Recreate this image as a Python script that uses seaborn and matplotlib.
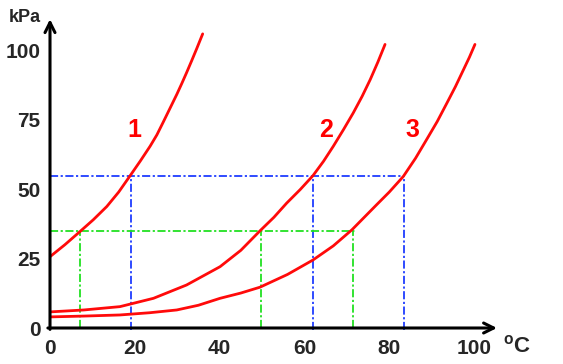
import matplotlib
matplotlib.use("Agg")
import matplotlib.pyplot as plt
import seaborn as sns
import pandas as pd

# vapour pressure curves (deg C, kPa)
c1_t = [0, 3.5, 7.1, 10.2, 13.4, 16.2, 18.9, 21.3, 23.6, 25.2, 26.7, 28.3, 29.9, 31.1, 32.2, 33.4, 34.6, 36.0]
c1_p = [25.7, 30.0, 34.8, 39.0, 43.8, 49.0, 54.9, 60.2, 65.5, 69.6, 74.2, 79.2, 84.2, 88.2, 92.0, 96.3, 100.7, 106.0]
c2_t = [0, 8.0, 16.5, 24.4, 32.2, 40.1, 45.0, 49.5, 52.8, 55.8, 59.0, 62.0, 64.5, 66.8, 69.2, 71.5, 73.6, 75.5, 77.3, 79.0]
c2_p = [5.8, 6.5, 7.7, 10.7, 15.5, 22.1, 28.0, 35.0, 39.9, 45.0, 49.9, 54.9, 60.1, 65.5, 71.5, 77.5, 83.5, 89.5, 95.8, 102.2]
c3_t = [0, 8.0, 16.5, 23.5, 29.9, 35.0, 40.1, 45.0, 49.5, 56.0, 62.0, 66.8, 71.2, 77.0, 80.0, 83.3, 86.2, 88.8, 91.3, 93.6, 95.6, 97.5, 98.9, 100.2]
c3_p = [4.0, 4.3, 4.7, 5.5, 6.5, 8.2, 10.7, 12.6, 14.7, 19.3, 24.5, 29.6, 35.4, 44.4, 49.0, 54.6, 61.2, 67.9, 74.4, 81.1, 87.0, 93.1, 97.6, 102.2]

# guide lines
blue_p = 54.9
blue_t = [19.1, 62.0, 83.5]
green_p = 35.0
green_t = [7.1, 49.8, 71.5]

labels = ["1", "2", "3"]
label_t = [20, 65, 85.5]
label_p = 71.5

y_ticks = [0, 25, 50, 75, 100]
x_ticks = [0, 20, 40, 60, 80, 100]

sns.set_style("white")
plt.rcParams["font.family"] = ["Liberation Sans", "DejaVu Sans"]
plt.rcParams["font.weight"] = "bold"

curves = pd.concat([
    pd.DataFrame({"t": c1_t, "p": c1_p, "curve": "1"}),
    pd.DataFrame({"t": c2_t, "p": c2_p, "curve": "2"}),
    pd.DataFrame({"t": c3_t, "p": c3_p, "curve": "3"}),
])

fig = plt.figure(figsize=(5.63, 3.64), dpi=100)
ax = fig.add_axes([50 / 563, 36 / 364, 447 / 563, 308 / 364])

dash = (0, (4.5, 1.4, 1.2, 1.4))
ax.plot([0, max(blue_t)], [blue_p, blue_p], color="#1f3dff", lw=1.3, ls=dash, zorder=2)
for t in blue_t:
    ax.plot([t, t], [-0.8, blue_p], color="#1f3dff", lw=1.3, ls=dash, zorder=2, clip_on=False)
ax.plot([0, max(green_t) + 0.5], [green_p, green_p], color="#22e022", lw=1.3, ls=dash, zorder=2)
for t in green_t:
    ax.plot([t, t], [0, green_p], color="#22e022", lw=1.3, ls=dash, zorder=2)

sns.lineplot(data=curves, x="t", y="p", hue="curve", sort=False, estimator=None,
             palette=["#ff0a0a"] * 3, lw=2.0, legend=False, ax=ax, zorder=3)

for lab, t in zip(labels, label_t):
    ax.text(t, label_p, lab, color="#ff0000", fontsize=18, fontweight="bold",
            ha="center", va="center")

ax.set_xlim(0, 105.4)
ax.set_ylim(0, 111)
for s in ax.spines.values():
    s.set_visible(False)

arrow = dict(arrowstyle="->", lw=2.2, color="black", mutation_scale=18,
             shrinkA=0, shrinkB=0)
ax.annotate("", xy=(105.4, 0), xytext=(-0.5, 0), arrowprops=arrow, annotation_clip=False)
ax.annotate("", xy=(0, 111.3), xytext=(0, -0.5), arrowprops=arrow, annotation_clip=False)

ax.set_xticks(x_ticks)
ax.set_yticks(y_ticks)
ax.tick_params(axis="both", direction="in", length=8.5, width=1.8, color="black",
               labelsize=15, pad=7)
ax.tick_params(axis="x", pad=8)
for lab in ax.get_xticklabels() + ax.get_yticklabels():
    lab.set_fontweight("bold")
ax.set_xlabel("")
ax.set_ylabel("")

fig.text(25 / 563, 1 - 18 / 364, "kPa", fontsize=13, fontweight="bold",
         ha="center", va="center")
fig.text(517 / 563, 1 - 346 / 364, "$^{\\mathregular{o}}$C", fontsize=16, fontweight="bold",
         ha="center", va="center")

fig.savefig("out.png", dpi=100)
